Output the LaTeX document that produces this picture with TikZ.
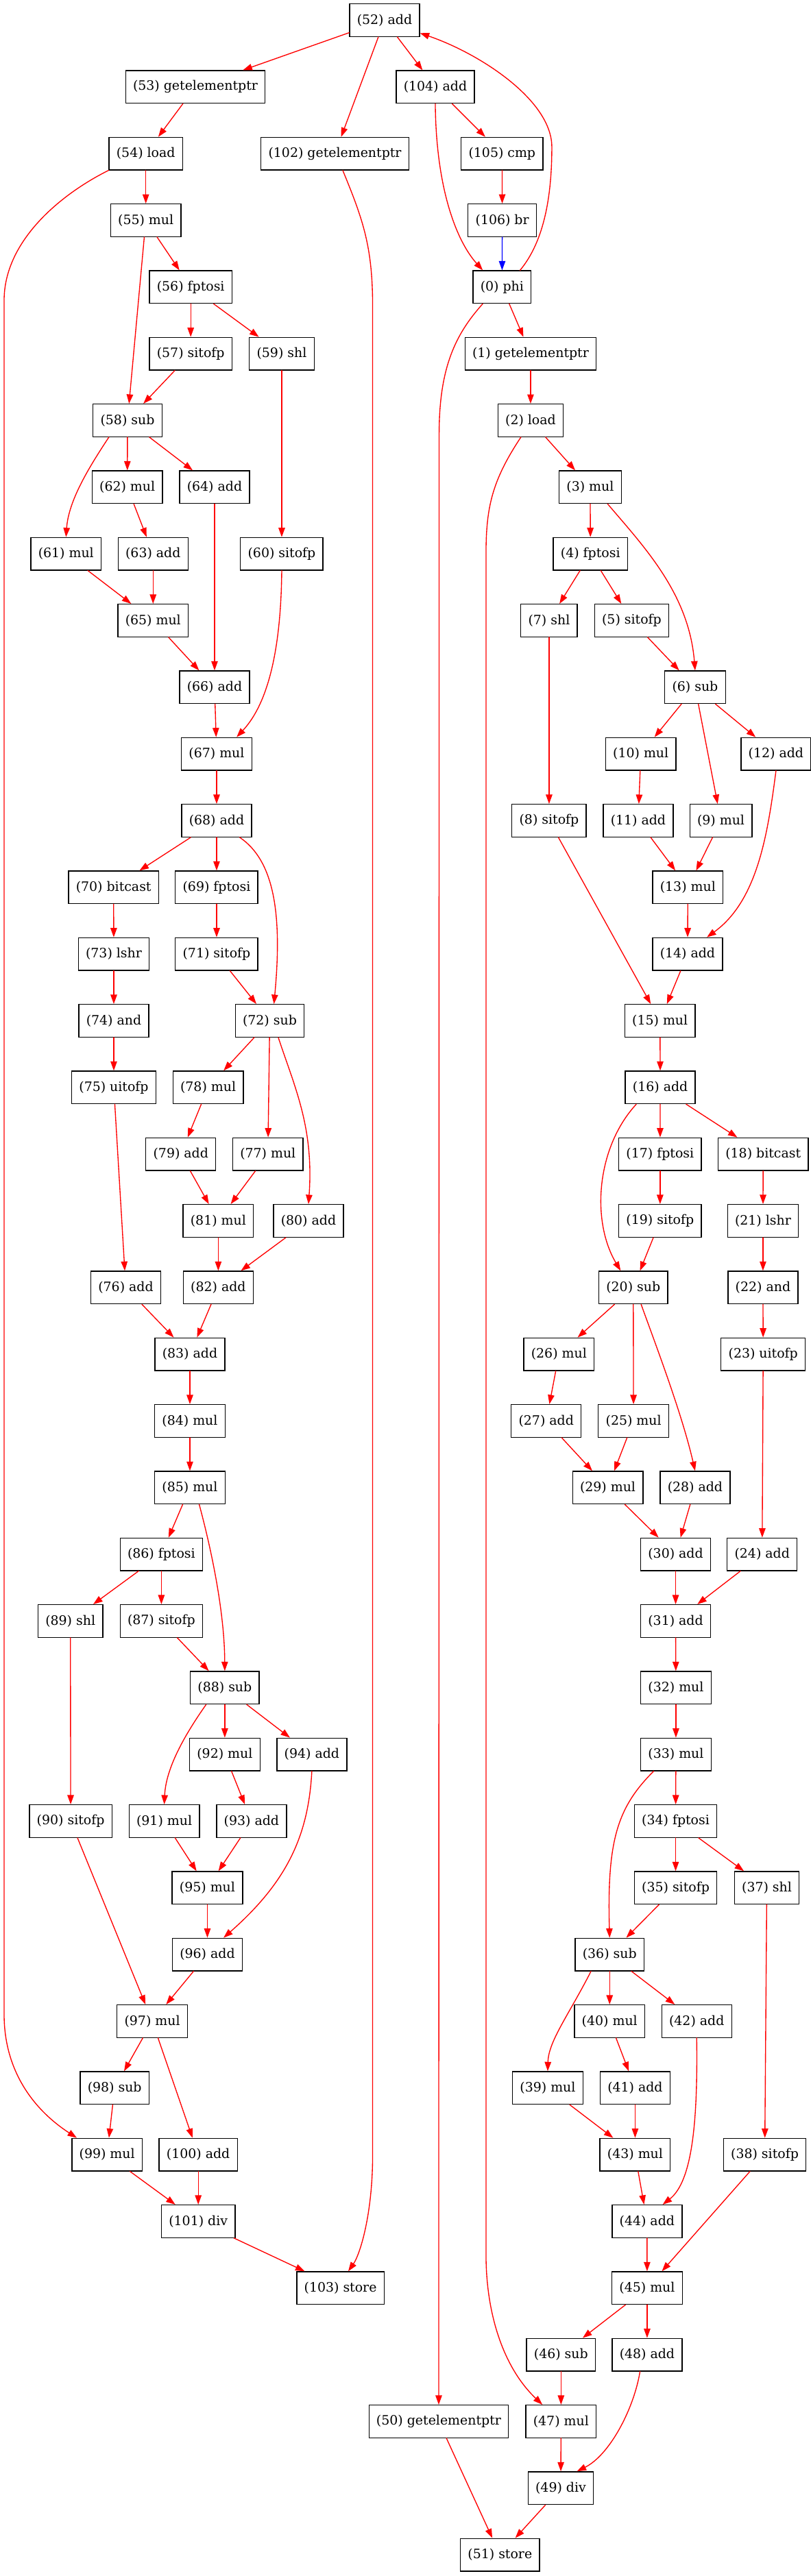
\documentclass[tikz,border=0pt]{standalone}
\usepackage{fontspec}
\setmainfont{DejaVu Serif}
\usetikzlibrary{
    arrows.meta % Filled triangle tips on the edges.
}

\begin{document}
\begin{tikzpicture}[%
        x = 0.7397pt,
        y = -72pt,
        line cap = round,
        op/.style = {draw = black, line width = 1pt, minimum height = 35.2pt,
            minimum width = 54pt, inner xsep = 8pt, inner ysep = 2pt,
            font = \fontsize{14}{17}\selectfont},
        dep/.style = {draw = red, line width = 1pt,
            -{Triangle[length = 10pt, width = 7pt]}},
        ctl/.style = {dep, draw = blue}
    ]

        % Fix the page to the size of the graph.
        \useasboundingbox (0, -0.3031) rectangle (1183, 38.318);

        % Nodes of the left block (x in pixels, y in ranks).
        \node[op] (n52) at (561, 0) {(52) add};
        \node[op] (n53) at (285, 1) {(53) getelementptr};
        \node[op] (n104) at (635, 1) {(104) add};
        \node[op] (n54) at (212.7, 2) {(54) load};
        \node[op] (n102) at (488.6, 2) {(102) getelementptr};
        \node[op] (n105) at (732.4, 2) {(105) cmp};
        \node[op] (n55) at (212.7, 3) {(55) mul};
        \node[op] (n106) at (732.7, 3) {(106) br};
        \node[op] (n56) at (278.2, 4) {(56) fptosi};
        \node[op] (n57) at (278.2, 5) {(57) sitofp};
        \node[op] (n59) at (411, 5) {(59) shl};
        \node[op] (n58) at (186, 6) {(58) sub};
        \node[op] (n62) at (185.7, 7) {(62) mul};
        \node[op] (n64) at (313, 7) {(64) add};
        \node[op] (n61) at (96.3, 8) {(61) mul};
        \node[op] (n63) at (223.3, 8) {(63) add};
        \node[op] (n60) at (411, 8) {(60) sitofp};
        \node[op] (n65) at (223.3, 9) {(65) mul};
        \node[op] (n66) at (313, 10) {(66) add};
        \node[op] (n67) at (316, 11) {(67) mul};
        \node[op] (n68) at (316, 12) {(68) add};
        \node[op] (n70) at (165.7, 13) {(70) bitcast};
        \node[op] (n69) at (316, 13) {(69) fptosi};
        \node[op] (n73) at (166, 14) {(73) lshr};
        \node[op] (n71) at (316, 14) {(71) sitofp};
        \node[op] (n74) at (166, 15) {(74) and};
        \node[op] (n72) at (393.5, 15) {(72) sub};
        \node[op] (n75) at (166, 16) {(75) uitofp};
        \node[op] (n78) at (303.6, 16) {(78) mul};
        \node[op] (n79) at (263.8, 17) {(79) add};
        \node[op] (n77) at (390.8, 17) {(77) mul};
        \node[op] (n81) at (318.4, 18) {(81) mul};
        \node[op] (n80) at (450, 18) {(80) add};
        \node[op] (n76) at (183.5, 19) {(76) add};
        \node[op] (n82) at (318.4, 19) {(82) add};
        \node[op] (n83) at (277, 20) {(83) add};
        \node[op] (n84) at (277, 21) {(84) mul};
        \node[op] (n85) at (277, 22) {(85) mul};
        \node[op] (n86) at (235.4, 23) {(86) fptosi};
        \node[op] (n89) at (102.7, 24) {(89) shl};
        \node[op] (n87) at (235.4, 24) {(87) sitofp};
        \node[op] (n88) at (327.9, 25) {(88) sub};
        \node[op] (n92) at (327.9, 26) {(92) mul};
        \node[op] (n94) at (454.9, 26) {(94) add};
        \node[op] (n90) at (103.1, 27) {(90) sitofp};
        \node[op] (n91) at (239.6, 27) {(91) mul};
        \node[op] (n93) at (366.9, 27) {(93) add};
        \node[op] (n95) at (302.5, 28) {(95) mul};
        \node[op] (n96) at (302.5, 29) {(96) add};
        \node[op] (n97) at (222.1, 30) {(97) mul};
        \node[op] (n98) at (167.2, 31) {(98) sub};
        \node[op] (n99) at (156.2, 32) {(99) mul};
        \node[op] (n100) at (289.2, 32) {(100) add};
        \node[op] (n101) at (289.2, 33) {(101) div};
        \node[op] (n103) at (496.6, 34) {(103) store};

        % Nodes of the right block.
        \node[op] (n0) at (732.4, 4) {(0) phi};
        \node[op] (n1) at (774, 5) {(1) getelementptr};
        \node[op] (n2) at (774, 6) {(2) load};
        \node[op] (n3) at (861, 7) {(3) mul};
        \node[op] (n4) at (861.3, 8) {(4) fptosi};
        \node[op] (n7) at (801, 9) {(7) shl};
        \node[op] (n5) at (921.5, 9) {(5) sitofp};
        \node[op] (n6) at (1014, 10) {(6) sub};
        \node[op] (n10) at (934.8, 11) {(10) mul};
        \node[op] (n12) at (1132, 11) {(12) add};
        \node[op] (n8) at (801, 12) {(8) sitofp};
        \node[op] (n11) at (931, 12) {(11) add};
        \node[op] (n9) at (1051.6, 12) {(9) mul};
        \node[op] (n13) at (1003.4, 13) {(13) mul};
        \node[op] (n14) at (1003, 14) {(14) add};
        \node[op] (n15) at (962.8, 15) {(15) mul};
        \node[op] (n16) at (963.2, 16) {(16) add};
        \node[op] (n17) at (962.9, 17) {(17) fptosi};
        \node[op] (n18) at (1113.3, 17) {(18) bitcast};
        \node[op] (n19) at (962.9, 18) {(19) sitofp};
        \node[op] (n21) at (1113, 18) {(21) lshr};
        \node[op] (n20) at (923.8, 19) {(20) sub};
        \node[op] (n22) at (1113, 19) {(22) and};
        \node[op] (n26) at (815.4, 20) {(26) mul};
        \node[op] (n23) at (1113.3, 20) {(23) uitofp};
        \node[op] (n27) at (796.8, 21) {(27) add};
        \node[op] (n25) at (924.2, 21) {(25) mul};
        \node[op] (n29) at (886.6, 22) {(29) mul};
        \node[op] (n28) at (1014, 22) {(28) add};
        \node[op] (n30) at (985.6, 23) {(30) add};
        \node[op] (n24) at (1111.8, 23) {(24) add};
        \node[op] (n31) at (985.6, 24) {(31) add};
        \node[op] (n32) at (986, 25) {(32) mul};
        \node[op] (n33) at (986, 26) {(33) mul};
        \node[op] (n34) at (985.6, 27) {(34) fptosi};
        \node[op] (n35) at (985.6, 28) {(35) sitofp};
        \node[op] (n37) at (1118.6, 28) {(37) shl};
        \node[op] (n36) at (889.3, 29) {(36) sub};
        \node[op] (n40) at (889.3, 30) {(40) mul};
        \node[op] (n42) at (1016.3, 30) {(42) add};
        \node[op] (n39) at (799, 31) {(39) mul};
        \node[op] (n41) at (926.5, 31) {(41) add};
        \node[op] (n43) at (926.5, 32) {(43) mul};
        \node[op] (n38) at (1115.6, 32) {(38) sitofp};
        \node[op] (n44) at (943.9, 33) {(44) add};
        \node[op] (n45) at (944, 34) {(45) mul};
        \node[op] (n46) at (818.4, 35) {(46) sub};
        \node[op] (n48) at (944, 35) {(48) add};
        \node[op] (n50) at (640, 36) {(50) getelementptr};
        \node[op] (n47) at (818.4, 36) {(47) mul};
        \node[op] (n49) at (818, 37) {(49) div};
        \node[op] (n51) at (729.4, 38) {(51) store};

        % Bends of the long edges.
        \coordinate (b0) at (805, 1.9);
        \coordinate (w50) at (640.6, 6.2);
        \coordinate (w2a) at (709, 8.0);
        \coordinate (w2b) at (709, 33.5);
        \coordinate (w54a) at (6, 4.2);
        \coordinate (w54b) at (6, 29.9);
        \coordinate (w102a) at (543.6, 4.3);
        \coordinate (w102b) at (543.6, 32.0);

        % Loop control at the top.
        \draw[dep] (n52) -- (n53);
        \draw[dep] (n52) -- (n102);
        \draw[dep] (n52) -- (n104);
        \draw[dep] (n104) -- (n105);
        \draw[dep] (n105) -- (n106);
        \draw[ctl] (n106) -- (n0);
        \draw[dep] (n104.south) .. controls (636, 2.5) and (665, 3.3) .. (n0.139);
        \draw[dep] (n0.43) .. controls (795, 3.3) and (805, 2.6) .. (b0)
              .. controls (805, 1.2) and (700, 0.5) .. (n52.-20);

        % Long edges down the sides.
        \draw[dep] (n54.south west) .. controls (90, 2.6) and (6, 3.3) .. (w54a) -- (w54b)
              .. controls (6, 30.7) and (45, 31.3) .. (n99.151);
        \draw[dep] (n102.-65) .. controls (530, 3.0) and (543.6, 3.4) .. (w102a) -- (w102b)
              .. controls (543.6, 32.9) and (525, 33.5) .. (n103.65);
        \draw[dep] (n0.-139) .. controls (665, 4.7) and (640.6, 5.2) .. (w50) -- (n50);
        \draw[dep] (n2.-120) .. controls (718, 6.9) and (709, 7.3) .. (w2a) -- (w2b)
              .. controls (709, 34.4) and (735, 35.2) .. (n47.138);

        % Edges of the left block.
        \draw[dep] (n53) -- (n54);
        \draw[dep] (n54) -- (n55);
        \draw[dep] (n55) -- (n56);
        \draw[dep] (n55) -- (n58);
        \draw[dep] (n56) -- (n57);
        \draw[dep] (n56) -- (n59);
        \draw[dep] (n57) -- (n58);
        \draw[dep] (n59) -- (n60);
        \draw[dep] (n58.-138) .. controls (130, 6.7) and (100, 7.2) .. (n61.north);
        \draw[dep] (n58) -- (n62);
        \draw[dep] (n58) -- (n64);
        \draw[dep] (n62) -- (n63);
        \draw[dep] (n61) -- (n65);
        \draw[dep] (n63) -- (n65);
        \draw[dep] (n64) -- (n66);
        \draw[dep] (n65) -- (n66);
        \draw[dep] (n60.south) .. controls (410, 9.3) and (395, 10.2) .. (n67.40);
        \draw[dep] (n66) -- (n67);
        \draw[dep] (n67) -- (n68);
        \draw[dep] (n68) -- (n70);
        \draw[dep] (n68) -- (n69);
        \draw[dep] (n68.-36) .. controls (400, 12.6) and (412, 13.4) .. (n72.76);
        \draw[dep] (n70) -- (n73);
        \draw[dep] (n69) -- (n71);
        \draw[dep] (n71) -- (n72);
        \draw[dep] (n73) -- (n74);
        \draw[dep] (n74) -- (n75);
        \draw[dep] (n72) -- (n78);
        \draw[dep] (n72) -- (n77);
        \draw[dep] (n72.-63) .. controls (430, 16.0) and (458, 16.6) .. (n80.north);
        \draw[dep] (n78) -- (n79);
        \draw[dep] (n79) -- (n81);
        \draw[dep] (n77) -- (n81);
        \draw[dep] (n81) -- (n82);
        \draw[dep] (n80) -- (n82);
        \draw[dep] (n75) -- (n76);
        \draw[dep] (n76) -- (n83);
        \draw[dep] (n82) -- (n83);
        \draw[dep] (n83) -- (n84);
        \draw[dep] (n84) -- (n85);
        \draw[dep] (n85) -- (n86);
        \draw[dep] (n85.-61) .. controls (305, 22.8) and (327.5, 23.8) .. (n88.north);
        \draw[dep] (n86) -- (n89);
        \draw[dep] (n86) -- (n87);
        \draw[dep] (n87) -- (n88);
        \draw[dep] (n89) -- (n90);
        \draw[dep] (n88.-138) .. controls (270, 25.7) and (242, 26.2) .. (n91.north);
        \draw[dep] (n88) -- (n92);
        \draw[dep] (n88) -- (n94);
        \draw[dep] (n92) -- (n93);
        \draw[dep] (n91) -- (n95);
        \draw[dep] (n93) -- (n95);
        \draw[dep] (n95) -- (n96);
        \draw[dep] (n94.south) .. controls (450, 27.2) and (420, 27.9) .. (n96.46);
        \draw[dep] (n90) -- (n97);
        \draw[dep] (n96) -- (n97);
        \draw[dep] (n97) -- (n98);
        \draw[dep] (n97) -- (n100);
        \draw[dep] (n98) -- (n99);
        \draw[dep] (n99) -- (n101);
        \draw[dep] (n100) -- (n101);
        \draw[dep] (n101) -- (n103);

        % Edges of the right block.
        \draw[dep] (n0) -- (n1);
        \draw[dep] (n1) -- (n2);
        \draw[dep] (n2) -- (n3);
        \draw[dep] (n3) -- (n4);
        \draw[dep] (n3.-44) .. controls (940, 7.9) and (1005, 8.6) .. (n6.north);
        \draw[dep] (n4) -- (n7);
        \draw[dep] (n4) -- (n5);
        \draw[dep] (n5) -- (n6);
        \draw[dep] (n7) -- (n8);
        \draw[dep] (n6) -- (n10);
        \draw[dep] (n6) -- (n9);
        \draw[dep] (n6) -- (n12);
        \draw[dep] (n10) -- (n11);
        \draw[dep] (n11) -- (n13);
        \draw[dep] (n9) -- (n13);
        \draw[dep] (n13) -- (n14);
        \draw[dep] (n12.south) .. controls (1120, 12.2) and (1105, 13.2) .. (n14.41);
        \draw[dep] (n8) -- (n15);
        \draw[dep] (n14) -- (n15);
        \draw[dep] (n15) -- (n16);
        \draw[dep] (n16.-145) .. controls (870, 16.9) and (862, 18.0) .. (n20.127);
        \draw[dep] (n16) -- (n17);
        \draw[dep] (n16) -- (n18);
        \draw[dep] (n17) -- (n19);
        \draw[dep] (n18) -- (n21);
        \draw[dep] (n19) -- (n20);
        \draw[dep] (n21) -- (n22);
        \draw[dep] (n22) -- (n23);
        \draw[dep] (n20) -- (n26);
        \draw[dep] (n20) -- (n25);
        \draw[dep] (n20.-65) .. controls (958, 19.9) and (995, 20.9) .. (n28.north);
        \draw[dep] (n26) -- (n27);
        \draw[dep] (n27) -- (n29);
        \draw[dep] (n25) -- (n29);
        \draw[dep] (n29) -- (n30);
        \draw[dep] (n28) -- (n30);
        \draw[dep] (n23) -- (n24);
        \draw[dep] (n30) -- (n31);
        \draw[dep] (n24) -- (n31);
        \draw[dep] (n31) -- (n32);
        \draw[dep] (n32) -- (n33);
        \draw[dep] (n33) -- (n34);
        \draw[dep] (n33.-143) .. controls (900, 26.8) and (885.5, 27.3) .. (n36.north);
        \draw[dep] (n34) -- (n35);
        \draw[dep] (n34) -- (n37);
        \draw[dep] (n35) -- (n36);
        \draw[dep] (n37) -- (n38);
        \draw[dep] (n36.-138) .. controls (830, 29.9) and (800, 30.3) .. (n39.north);
        \draw[dep] (n36) -- (n40);
        \draw[dep] (n36) -- (n42);
        \draw[dep] (n40) -- (n41);
        \draw[dep] (n39) -- (n43);
        \draw[dep] (n41) -- (n43);
        \draw[dep] (n43) -- (n44);
        \draw[dep] (n42.south) .. controls (1018, 31.5) and (1010, 32.4) .. (n44.47);
        \draw[dep] (n44) -- (n45);
        \draw[dep] (n38) -- (n45);
        \draw[dep] (n45) -- (n46);
        \draw[dep] (n45) -- (n48);
        \draw[dep] (n46) -- (n47);
        \draw[dep] (n47) -- (n49);
        \draw[dep] (n48.-113) .. controls (925, 35.8) and (890, 36.5) .. (n49.46);
        \draw[dep] (n50) -- (n51);
        \draw[dep] (n49) -- (n51);
    \end{tikzpicture}
\end{document}
